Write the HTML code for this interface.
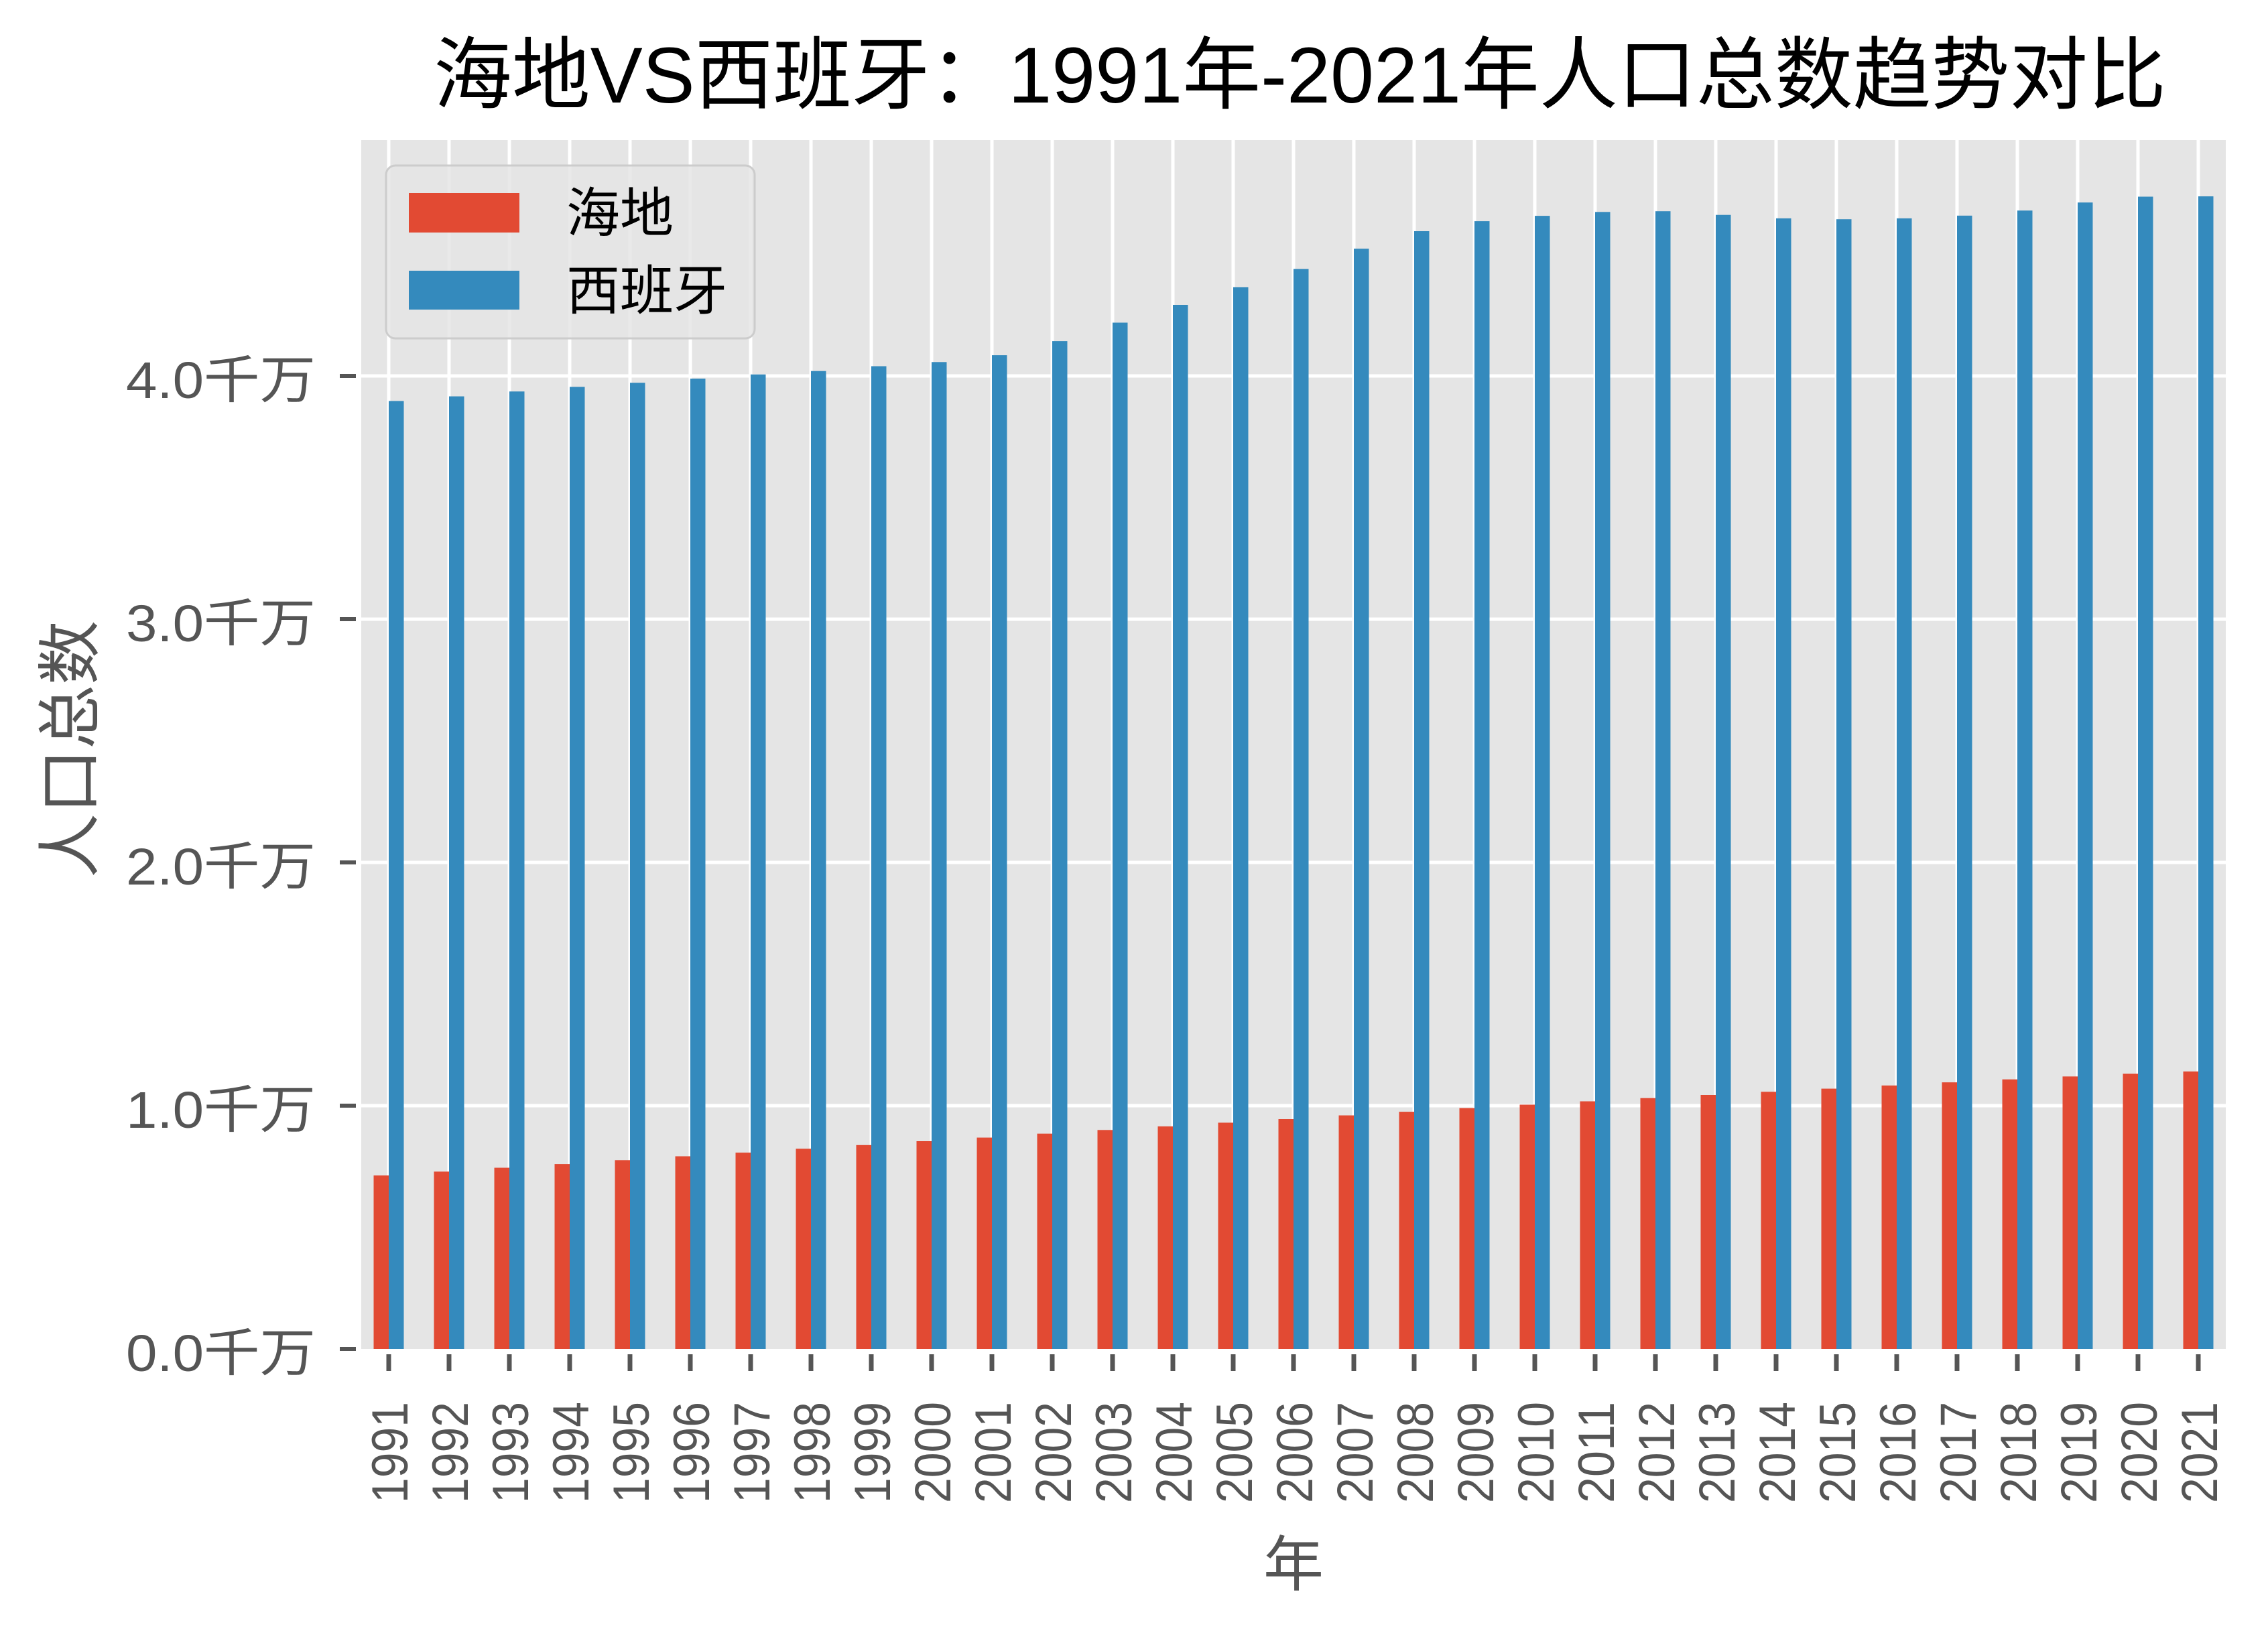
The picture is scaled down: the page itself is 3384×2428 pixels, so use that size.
<!DOCTYPE html>
<html><head><meta charset="utf-8"><style>
html,body{margin:0;padding:0;background:#fff;}
svg{display:block;}
text{font-family:"Liberation Sans","Noto Sans CJK SC",sans-serif;}
</style></head><body>
<svg width="3384" height="2428" viewBox="0 0 3384 2428" xmlns="http://www.w3.org/2000/svg">
<rect x="0" y="0" width="3384" height="2428" fill="#fff"/>
<text x="647" y="153" font-size="118" fill="#000" textLength="2585" lengthAdjust="spacingAndGlyphs">海地VS西班牙：1991年-2021年人口总数趋势对比</text>
<rect x="539" y="209" width="2782" height="1804" fill="#e5e5e5"/>
<g stroke="#fff" stroke-width="5">
<line x1="539" x2="3321" y1="1650" y2="1650"/><line x1="539" x2="3321" y1="1287" y2="1287"/><line x1="539" x2="3321" y1="924" y2="924"/><line x1="539" x2="3321" y1="561" y2="561"/>
<line x1="580" x2="580" y1="209" y2="2013"/><line x1="670" x2="670" y1="209" y2="2013"/><line x1="760" x2="760" y1="209" y2="2013"/><line x1="850" x2="850" y1="209" y2="2013"/><line x1="940" x2="940" y1="209" y2="2013"/><line x1="1030" x2="1030" y1="209" y2="2013"/><line x1="1120" x2="1120" y1="209" y2="2013"/><line x1="1210" x2="1210" y1="209" y2="2013"/><line x1="1300" x2="1300" y1="209" y2="2013"/><line x1="1390" x2="1390" y1="209" y2="2013"/><line x1="1480" x2="1480" y1="209" y2="2013"/><line x1="1570" x2="1570" y1="209" y2="2013"/><line x1="1660" x2="1660" y1="209" y2="2013"/><line x1="1750" x2="1750" y1="209" y2="2013"/><line x1="1840" x2="1840" y1="209" y2="2013"/><line x1="1930" x2="1930" y1="209" y2="2013"/><line x1="2020" x2="2020" y1="209" y2="2013"/><line x1="2110" x2="2110" y1="209" y2="2013"/><line x1="2200" x2="2200" y1="209" y2="2013"/><line x1="2290" x2="2290" y1="209" y2="2013"/><line x1="2380" x2="2380" y1="209" y2="2013"/><line x1="2470" x2="2470" y1="209" y2="2013"/><line x1="2560" x2="2560" y1="209" y2="2013"/><line x1="2650" x2="2650" y1="209" y2="2013"/><line x1="2740" x2="2740" y1="209" y2="2013"/><line x1="2830" x2="2830" y1="209" y2="2013"/><line x1="2920" x2="2920" y1="209" y2="2013"/><line x1="3010" x2="3010" y1="209" y2="2013"/><line x1="3100" x2="3100" y1="209" y2="2013"/><line x1="3190" x2="3190" y1="209" y2="2013"/><line x1="3280" x2="3280" y1="209" y2="2013"/>
</g>
<g fill="#E24A33">
<rect x="557.5" y="1754.2" width="22.5" height="258.8"/><rect x="647.5" y="1748.4" width="22.5" height="264.6"/><rect x="737.5" y="1742.6" width="22.5" height="270.4"/><rect x="827.5" y="1737.1" width="22.5" height="275.9"/><rect x="917.5" y="1731.3" width="22.5" height="281.7"/><rect x="1007.5" y="1725.5" width="22.5" height="287.5"/><rect x="1097.5" y="1720.1" width="22.5" height="292.9"/><rect x="1187.5" y="1714.3" width="22.5" height="298.7"/><rect x="1277.5" y="1708.8" width="22.5" height="304.2"/><rect x="1367.5" y="1703" width="22.5" height="310"/><rect x="1457.5" y="1697.6" width="22.5" height="315.4"/><rect x="1547.5" y="1691.7" width="22.5" height="321.3"/><rect x="1637.5" y="1686.3" width="22.5" height="326.7"/><rect x="1727.5" y="1680.9" width="22.5" height="332.1"/><rect x="1817.5" y="1675.4" width="22.5" height="337.6"/><rect x="1907.5" y="1670" width="22.5" height="343"/><rect x="1997.5" y="1664.5" width="22.5" height="348.5"/><rect x="2087.5" y="1659.1" width="22.5" height="353.9"/><rect x="2177.5" y="1653.6" width="22.5" height="359.4"/><rect x="2267.5" y="1648.5" width="22.5" height="364.5"/><rect x="2357.5" y="1643.5" width="22.5" height="369.5"/><rect x="2447.5" y="1638.7" width="22.5" height="374.3"/><rect x="2537.5" y="1634" width="22.5" height="379"/><rect x="2627.5" y="1629.3" width="22.5" height="383.7"/><rect x="2717.5" y="1624.6" width="22.5" height="388.4"/><rect x="2807.5" y="1619.9" width="22.5" height="393.1"/><rect x="2897.5" y="1615.2" width="22.5" height="397.8"/><rect x="2987.5" y="1610.8" width="22.5" height="402.2"/><rect x="3077.5" y="1606.4" width="22.5" height="406.6"/><rect x="3167.5" y="1602.4" width="22.5" height="410.6"/><rect x="3257.5" y="1599" width="22.5" height="414"/>
</g>
<g fill="#348ABD">
<rect x="580" y="598.4" width="22.5" height="1414.6"/><rect x="670" y="591.5" width="22.5" height="1421.5"/><rect x="760" y="584.2" width="22.5" height="1428.8"/><rect x="850" y="577.3" width="22.5" height="1435.7"/><rect x="940" y="571.2" width="22.5" height="1441.8"/><rect x="1030" y="565" width="22.5" height="1448"/><rect x="1120" y="558.8" width="22.5" height="1454.2"/><rect x="1210" y="553.7" width="22.5" height="1459.3"/><rect x="1300" y="546.5" width="22.5" height="1466.5"/><rect x="1390" y="540.3" width="22.5" height="1472.7"/><rect x="1480" y="530.1" width="22.5" height="1482.9"/><rect x="1570" y="509.1" width="22.5" height="1503.9"/><rect x="1660" y="481.5" width="22.5" height="1531.5"/><rect x="1750" y="455" width="22.5" height="1558"/><rect x="1840" y="428.5" width="22.5" height="1584.5"/><rect x="1930" y="401.3" width="22.5" height="1611.7"/><rect x="2020" y="371.1" width="22.5" height="1641.9"/><rect x="2110" y="345" width="22.5" height="1668"/><rect x="2200" y="330.1" width="22.5" height="1682.9"/><rect x="2290" y="322.1" width="22.5" height="1690.9"/><rect x="2380" y="316.3" width="22.5" height="1696.7"/><rect x="2470" y="315.2" width="22.5" height="1697.8"/><rect x="2560" y="320.7" width="22.5" height="1692.3"/><rect x="2650" y="325.8" width="22.5" height="1687.2"/><rect x="2740" y="327.2" width="22.5" height="1685.8"/><rect x="2830" y="325.8" width="22.5" height="1687.2"/><rect x="2920" y="321.8" width="22.5" height="1691.2"/><rect x="3010" y="314.2" width="22.5" height="1698.8"/><rect x="3100" y="302.2" width="22.5" height="1710.8"/><rect x="3190" y="293.5" width="22.5" height="1719.5"/><rect x="3280" y="293" width="22.5" height="1720"/>
</g>
<!-- legend -->
<rect x="576" y="247" width="550" height="258" rx="14" ry="14" fill="#e5e5e5" fill-opacity="0.85" stroke="#cccccc" stroke-width="3"/>
<rect x="610" y="288" width="165" height="59" fill="#E24A33"/>
<rect x="610" y="404" width="165" height="58" fill="#348ABD"/>
<text x="845" y="346" font-size="80" fill="#000">海地</text>
<text x="845" y="462" font-size="80" fill="#000">西班牙</text>
<!-- y ticks -->
<g stroke="#555" stroke-width="6">
<line x1="507" x2="531" y1="2013" y2="2013"/><line x1="507" x2="531" y1="1650" y2="1650"/><line x1="507" x2="531" y1="1287" y2="1287"/><line x1="507" x2="531" y1="924" y2="924"/><line x1="507" x2="531" y1="561" y2="561"/>
</g>
<g font-size="77" fill="#555">
<text x="188" y="2046" textLength="283" lengthAdjust="spacingAndGlyphs">0.0千万</text>
<text x="188" y="1683" textLength="283" lengthAdjust="spacingAndGlyphs">1.0千万</text>
<text x="188" y="1320" textLength="283" lengthAdjust="spacingAndGlyphs">2.0千万</text>
<text x="188" y="957" textLength="283" lengthAdjust="spacingAndGlyphs">3.0千万</text>
<text x="188" y="594" textLength="283" lengthAdjust="spacingAndGlyphs">4.0千万</text>
</g>
<text transform="translate(138,1118) rotate(-90)" text-anchor="middle" font-size="96" fill="#555">人口总数</text>
<!-- x ticks -->
<g stroke="#555" stroke-width="7">
<line x1="580" x2="580" y1="2021" y2="2046"/><line x1="670" x2="670" y1="2021" y2="2046"/><line x1="760" x2="760" y1="2021" y2="2046"/><line x1="850" x2="850" y1="2021" y2="2046"/><line x1="940" x2="940" y1="2021" y2="2046"/><line x1="1030" x2="1030" y1="2021" y2="2046"/><line x1="1120" x2="1120" y1="2021" y2="2046"/><line x1="1210" x2="1210" y1="2021" y2="2046"/><line x1="1300" x2="1300" y1="2021" y2="2046"/><line x1="1390" x2="1390" y1="2021" y2="2046"/><line x1="1480" x2="1480" y1="2021" y2="2046"/><line x1="1570" x2="1570" y1="2021" y2="2046"/><line x1="1660" x2="1660" y1="2021" y2="2046"/><line x1="1750" x2="1750" y1="2021" y2="2046"/><line x1="1840" x2="1840" y1="2021" y2="2046"/><line x1="1930" x2="1930" y1="2021" y2="2046"/><line x1="2020" x2="2020" y1="2021" y2="2046"/><line x1="2110" x2="2110" y1="2021" y2="2046"/><line x1="2200" x2="2200" y1="2021" y2="2046"/><line x1="2290" x2="2290" y1="2021" y2="2046"/><line x1="2380" x2="2380" y1="2021" y2="2046"/><line x1="2470" x2="2470" y1="2021" y2="2046"/><line x1="2560" x2="2560" y1="2021" y2="2046"/><line x1="2650" x2="2650" y1="2021" y2="2046"/><line x1="2740" x2="2740" y1="2021" y2="2046"/><line x1="2830" x2="2830" y1="2021" y2="2046"/><line x1="2920" x2="2920" y1="2021" y2="2046"/><line x1="3010" x2="3010" y1="2021" y2="2046"/><line x1="3100" x2="3100" y1="2021" y2="2046"/><line x1="3190" x2="3190" y1="2021" y2="2046"/><line x1="3280" x2="3280" y1="2021" y2="2046"/>
</g>
<g font-size="76" fill="#555" text-anchor="end">
<text transform="translate(608,2092) rotate(-90)" textLength="151" lengthAdjust="spacingAndGlyphs">1991</text>
<text transform="translate(698,2092) rotate(-90)" textLength="151" lengthAdjust="spacingAndGlyphs">1992</text>
<text transform="translate(788,2092) rotate(-90)" textLength="151" lengthAdjust="spacingAndGlyphs">1993</text>
<text transform="translate(878,2092) rotate(-90)" textLength="151" lengthAdjust="spacingAndGlyphs">1994</text>
<text transform="translate(968,2092) rotate(-90)" textLength="151" lengthAdjust="spacingAndGlyphs">1995</text>
<text transform="translate(1058,2092) rotate(-90)" textLength="151" lengthAdjust="spacingAndGlyphs">1996</text>
<text transform="translate(1148,2092) rotate(-90)" textLength="151" lengthAdjust="spacingAndGlyphs">1997</text>
<text transform="translate(1238,2092) rotate(-90)" textLength="151" lengthAdjust="spacingAndGlyphs">1998</text>
<text transform="translate(1328,2092) rotate(-90)" textLength="151" lengthAdjust="spacingAndGlyphs">1999</text>
<text transform="translate(1418,2092) rotate(-90)" textLength="151" lengthAdjust="spacingAndGlyphs">2000</text>
<text transform="translate(1508,2092) rotate(-90)" textLength="151" lengthAdjust="spacingAndGlyphs">2001</text>
<text transform="translate(1598,2092) rotate(-90)" textLength="151" lengthAdjust="spacingAndGlyphs">2002</text>
<text transform="translate(1688,2092) rotate(-90)" textLength="151" lengthAdjust="spacingAndGlyphs">2003</text>
<text transform="translate(1778,2092) rotate(-90)" textLength="151" lengthAdjust="spacingAndGlyphs">2004</text>
<text transform="translate(1868,2092) rotate(-90)" textLength="151" lengthAdjust="spacingAndGlyphs">2005</text>
<text transform="translate(1958,2092) rotate(-90)" textLength="151" lengthAdjust="spacingAndGlyphs">2006</text>
<text transform="translate(2048,2092) rotate(-90)" textLength="151" lengthAdjust="spacingAndGlyphs">2007</text>
<text transform="translate(2138,2092) rotate(-90)" textLength="151" lengthAdjust="spacingAndGlyphs">2008</text>
<text transform="translate(2228,2092) rotate(-90)" textLength="151" lengthAdjust="spacingAndGlyphs">2009</text>
<text transform="translate(2318,2092) rotate(-90)" textLength="151" lengthAdjust="spacingAndGlyphs">2010</text>
<text transform="translate(2408,2092) rotate(-90)" textLength="151" lengthAdjust="spacingAndGlyphs">2011</text>
<text transform="translate(2498,2092) rotate(-90)" textLength="151" lengthAdjust="spacingAndGlyphs">2012</text>
<text transform="translate(2588,2092) rotate(-90)" textLength="151" lengthAdjust="spacingAndGlyphs">2013</text>
<text transform="translate(2678,2092) rotate(-90)" textLength="151" lengthAdjust="spacingAndGlyphs">2014</text>
<text transform="translate(2768,2092) rotate(-90)" textLength="151" lengthAdjust="spacingAndGlyphs">2015</text>
<text transform="translate(2858,2092) rotate(-90)" textLength="151" lengthAdjust="spacingAndGlyphs">2016</text>
<text transform="translate(2948,2092) rotate(-90)" textLength="151" lengthAdjust="spacingAndGlyphs">2017</text>
<text transform="translate(3038,2092) rotate(-90)" textLength="151" lengthAdjust="spacingAndGlyphs">2018</text>
<text transform="translate(3128,2092) rotate(-90)" textLength="151" lengthAdjust="spacingAndGlyphs">2019</text>
<text transform="translate(3218,2092) rotate(-90)" textLength="151" lengthAdjust="spacingAndGlyphs">2020</text>
<text transform="translate(3308,2092) rotate(-90)" textLength="151" lengthAdjust="spacingAndGlyphs">2021</text>
</g>
<text x="1930" y="2366" text-anchor="middle" font-size="90" fill="#555">年</text>
</svg>
</body></html>
